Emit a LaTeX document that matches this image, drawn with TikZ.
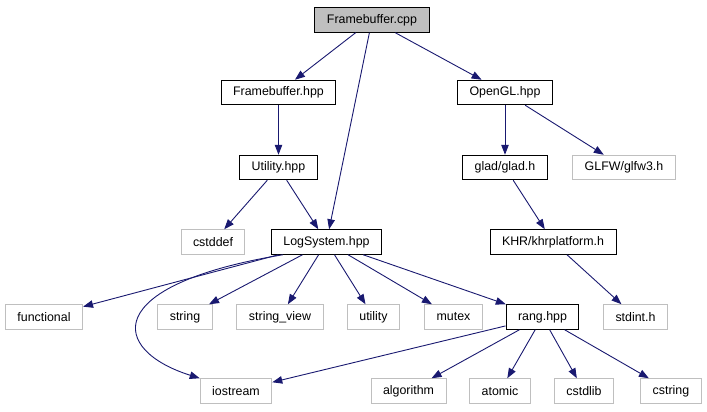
\documentclass[tikz,border=0pt]{standalone}
\usepackage{fontspec}
\setmainfont{Liberation Sans}
\usepackage{tikz}
\usetikzlibrary{arrows.meta,positioning}

\definecolor{edgeblue}{HTML}{191970}
\definecolor{extgray}{HTML}{BFBFBF}
\newcommand{\graphfont}{\fontsize{12.4bp}{15bp}\selectfont}

\begin{document}
\begin{tikzpicture}[x=1bp, y=-1bp,
    file/.style={rectangle, draw=black, line width=1bp, fill=white, inner xsep=12bp, inner ysep=0bp, minimum height=24.5bp, font=\graphfont},
    root/.style={file, fill=extgray},
    ext/.style={file, draw=extgray},
    arrow/.style={-{Triangle[length=10bp,width=7.5bp]}, edgeblue, line width=0.9bp}
]
\useasboundingbox (0,0) rectangle (707,411);

% Top file and its direct includes
\node[root] (fbcpp) at (372,20) {Framebuffer.cpp};
\node[file] (fbhpp) at (278.5,92.5) {Framebuffer.hpp};
\node[file] (opengl) at (505,92.5) {OpenGL.hpp};

% Third row
\node[file] (utility) at (278.5,167.5) {Utility.hpp};
\node[file] (glad) at (505,167.5) {glad/glad.h};
\node[ext] (glfw) at (624,167.5) {GLFW/glfw3.h};

% Fourth row
\node[ext] (cstddef) at (213,242) {cstddef};
\node[file] (logsys) at (326.5,242) {LogSystem.hpp};
\node[file] (khr) at (553,242) {KHR/khrplatform.h};

% Standard headers used by LogSystem
\node[ext] (functional) at (44,317) {functional};
\node[ext] (string) at (185,317) {string};
\node[ext] (stringview) at (280,317) {string\_view};
\node[ext] (utilityh) at (373.5,317) {utility};
\node[ext] (mutex) at (453.5,317) {mutex};
\node[file] (rang) at (542.5,317) {rang.hpp};
\node[ext] (stdint) at (635.5,317) {stdint.h};

% Bottom row
\node[ext] (iostream) at (236,391) {iostream};
\node[ext] (algorithm) at (408.5,391) {algorithm};
\node[ext] (atomic) at (500,391) {atomic};
\node[ext] (cstdlib) at (584,391) {cstdlib};
\node[ext] (cstring) at (671,391) {cstring};

% Includes of Framebuffer.cpp
\draw[arrow] (fbcpp) -- (fbhpp);
\draw[arrow] (fbcpp) -- (logsys);
\draw[arrow] (fbcpp) -- (opengl);

\draw[arrow] (fbhpp) -- (utility);
\draw[arrow] (utility) -- (cstddef);
\draw[arrow] (utility) -- (logsys);

\draw[arrow] (opengl) -- (glad);
\draw[arrow] (opengl) -- (glfw);
\draw[arrow] (glad) -- (khr);
\draw[arrow] (khr) -- (stdint);

% Includes of LogSystem.hpp
\draw[arrow] (logsys) -- (functional);
\draw[arrow] (logsys) -- (string);
\draw[arrow] (logsys) -- (stringview);
\draw[arrow] (logsys) -- (utilityh);
\draw[arrow] (logsys) -- (mutex);
\draw[arrow] (logsys) -- (rang);
\draw[arrow] (logsys.south west) ++(12,0) .. controls (100,285) and (110,350) .. (iostream.north west);

% Includes of rang.hpp
\draw[arrow] (rang) -- (iostream);
\draw[arrow] (rang) -- (algorithm);
\draw[arrow] (rang) -- (atomic);
\draw[arrow] (rang) -- (cstdlib);
\draw[arrow] (rang) -- (cstring);

\end{tikzpicture}
\end{document}
